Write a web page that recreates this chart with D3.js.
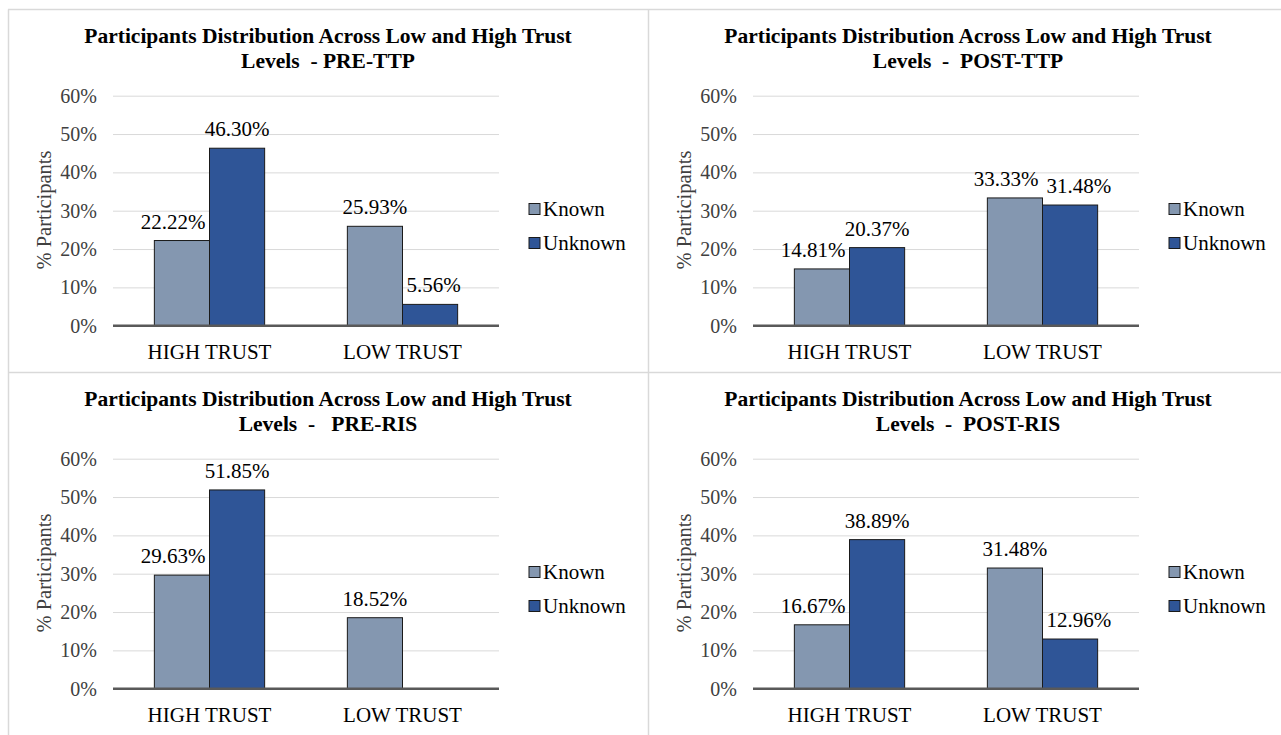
<!DOCTYPE html>
<html>
<head>
<meta charset="utf-8">
<script src="https://cdn.jsdelivr.net/npm/d3@7"></script>
</head>
<body style="margin:0">
<svg id="chart" width="1281" height="735"></svg>
<script>
// ---- data ----
const categories = ["HIGH TRUST", "LOW TRUST"];
const seriesNames = ["Known", "Unknown"];
const titleLine1 = "Participants Distribution Across Low and High Trust";
const titleLine2 = ["Levels  - PRE-TTP", "Levels  -  POST-TTP", "Levels  -   PRE-RIS", "Levels  -  POST-RIS"];
const knownPreTTP = [22.22, 25.93];
const unknownPreTTP = [46.30, 5.56];
const knownPostTTP = [14.81, 33.33];
const unknownPostTTP = [20.37, 31.48];
const knownPreRIS = [29.63, 18.52];
const unknownPreRIS = [51.85, 0];
const knownPostRIS = [16.67, 31.48];
const unknownPostRIS = [38.89, 12.96];
const yTicks = [0, 10, 20, 30, 40, 50, 60];
const yAxisTitle = "% Participants";

const panels = [
  { title2: titleLine2[0], known: knownPreTTP, unknown: unknownPreTTP },
  { title2: titleLine2[1], known: knownPostTTP, unknown: unknownPostTTP },
  { title2: titleLine2[2], known: knownPreRIS, unknown: unknownPreRIS },
  { title2: titleLine2[3], known: knownPostRIS, unknown: unknownPostRIS }
];

const FONT = "Tinos";
const colors = { Known: "#8497B0", Unknown: "#2F5597" };
const svg = d3.select("#chart");

function font(sel, size, weight) {
  sel.style("font-family", FONT).style("font-size", size + "px");
  if (weight) sel.style("font-weight", weight);
  return sel;
}

// panel borders
const borderColor = "#d9d9d9";
svg.append("line").attr("x1", 8.5).attr("x2", 8.5).attr("y1", 9.5).attr("y2", 735).attr("stroke", borderColor).attr("stroke-width", 1.5);
svg.append("line").attr("x1", 8).attr("x2", 1281).attr("y1", 9.5).attr("y2", 9.5).attr("stroke", borderColor).attr("stroke-width", 1.5);
svg.append("line").attr("x1", 648.5).attr("x2", 648.5).attr("y1", 9.5).attr("y2", 735).attr("stroke", borderColor).attr("stroke-width", 1.5);
svg.append("line").attr("x1", 8).attr("x2", 1281).attr("y1", 372.5).attr("y2", 372.5).attr("stroke", borderColor).attr("stroke-width", 1.5);

panels.forEach((p, i) => {
  const ox = (i % 2) * 640;
  const oy = Math.floor(i / 2) * 363;
  const g = svg.append("g").attr("transform", `translate(${ox},${oy})`);

  const x = d3.scaleBand().domain(categories).range([113, 499]);
  const xs = d3.scaleBand().domain(seriesNames).range([0, x.bandwidth()]).paddingInner(0).paddingOuter(0.75);
  const y = d3.scaleLinear().domain([0, 60]).range([325.7, 95.7]);

  // title
  font(g.append("text").attr("x", 328).attr("y", 43).attr("text-anchor", "middle")
    .attr("fill", "#000").text(titleLine1), 21.5, "bold");
  font(g.append("text").attr("x", 328).attr("y", 68).attr("text-anchor", "middle")
    .attr("fill", "#000").style("white-space", "pre").text(p.title2), 21.5, "bold");

  // gridlines
  g.append("g").selectAll("line").data(yTicks.filter(t => t > 0)).join("line")
    .attr("x1", 113).attr("x2", 499)
    .attr("y1", d => y(d) + 0.5).attr("y2", d => y(d) + 0.5)
    .attr("stroke", "#d9d9d9").attr("stroke-width", 1);

  // y axis labels
  const yAxis = g.append("g").attr("transform", "translate(97,0)")
    .call(d3.axisLeft(y).tickValues(yTicks).tickSize(0).tickPadding(0).tickFormat(d => d + "%"));
  yAxis.attr("font-family", FONT).attr("font-size", 20);
  yAxis.select(".domain").remove();
  font(yAxis.selectAll("text").attr("fill", "#404040").attr("dy", "0.33em"), 20);

  // y axis title
  font(g.append("text").attr("transform", `translate(51,210) rotate(-90)`).attr("text-anchor", "middle")
    .attr("fill", "#404040").text(yAxisTitle), 20.5);

  // bars
  const rows = [];
  categories.forEach((c, ci) => {
    seriesNames.forEach(s => {
      const v = (s === "Known" ? p.known : p.unknown)[ci];
      rows.push({ cat: c, ci, series: s, value: v });
    });
  });
  g.append("g").selectAll("rect").data(rows.filter(d => d.value > 0)).join("rect")
    .attr("x", d => x(d.cat) + xs(d.series))
    .attr("width", xs.bandwidth())
    .attr("y", d => y(d.value))
    .attr("height", d => y(0) - y(d.value))
    .attr("fill", d => colors[d.series])
    .attr("stroke", "#1a1a1a").attr("stroke-width", 1);

  // x axis line
  g.append("line").attr("x1", 113).attr("x2", 499).attr("y1", y(0)).attr("y2", y(0))
    .attr("stroke", "#595959").attr("stroke-width", 2.5);

  // x axis labels
  const xAxis = g.append("g").attr("transform", `translate(0,${y(0)})`)
    .call(d3.axisBottom(x).tickSize(0).tickPadding(0));
  xAxis.attr("font-family", FONT).attr("font-size", 21);
  xAxis.select(".domain").remove();
  font(xAxis.selectAll("text").attr("fill", "#000").attr("dy", null).attr("y", 33), 21);

  // data labels
  const labels = g.append("g").selectAll("text").data(rows.filter(d => d.value > 0)).join("text")
    .attr("fill", "#000").attr("text-anchor", "start")
    .attr("y", d => y(d.value) - 12)
    .text(d => d.value.toFixed(2) + "%");
  font(labels, 21);
  // position labels: centered, nudged to avoid neighbours
  const placed = {};
  labels.each(function(d) {
    const w = this.getComputedTextLength();
    const bx = x(d.cat) + xs(d.series);
    const bw = xs.bandwidth();
    let left = bx + bw / 2 - w / 2;
    const vals = [p.known[d.ci], p.unknown[d.ci]];
    if (d.series === "Known") {
      if (vals[1] > d.value - 3 && vals[1] > 0) {
        left = Math.min(left, bx + bw - 4 - w);
      }
      placed[d.ci] = left + w;
    } else {
      if (vals[0] > d.value - 3) {
        left = Math.max(left, bx + 4);
        const prev = placed[d.ci];
        if (prev !== undefined && Math.abs(y(vals[0]) - y(d.value)) < 22) left = Math.max(left, prev + 7);
      }
    }
    d3.select(this).attr("x", left);
  });

  // legend
  const leg = g.append("g");
  seriesNames.forEach((s, si) => {
    const ly = 209 + si * 34;
    leg.append("rect").attr("x", 529).attr("y", ly - 5.5).attr("width", 11).attr("height", 11)
      .attr("fill", colors[s]).attr("stroke", "#1a1a1a").attr("stroke-width", 1);
    font(leg.append("text").attr("x", 543).attr("y", ly + 6.5).attr("fill", "#000").text(s), 21);
  });
});
</script>
</body>
</html>
